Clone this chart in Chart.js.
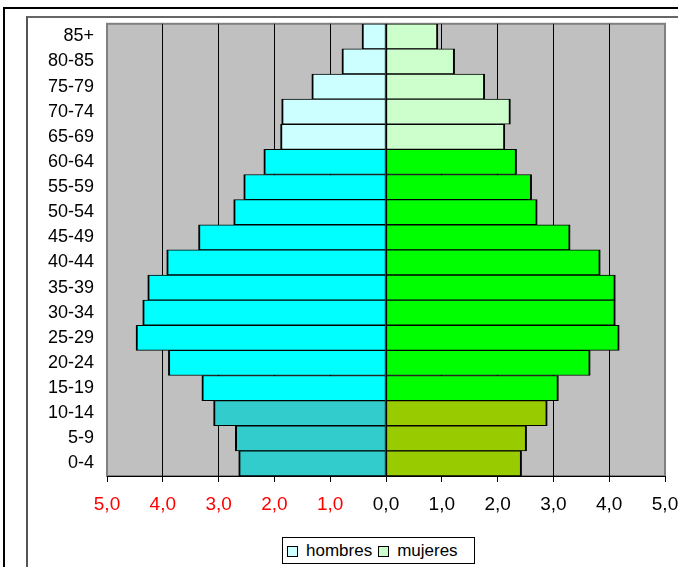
<!DOCTYPE html>
<html>
<head>
<meta charset="utf-8">
<script src="https://cdn.jsdelivr.net/npm/chart.js@4/dist/chart.umd.min.js"></script>
<style>
    html, body { margin: 0; padding: 0; background: #fff; overflow: hidden; }
    #wrap { position: relative; width: 678px; height: 567px; overflow: hidden; }
    #chart { position: absolute; left: 0; top: 0; }
    .frame { position: absolute; pointer-events: none; }
    #outer { left: 3px; top: 7px; width: 700px; height: 600px; border-left: 2px solid #000; border-top: 2px solid #000; }
    #inner { left: 26px; top: 16px; width: 700px; height: 600px; border-left: 2px solid #555; border-top: 2px solid #666; }
    #legend {
        position: absolute; left: 282px; top: 537px; width: 187px; height: 25px;
        border: 1px solid #000; background: #fff;
        font: 17px "Liberation Sans", Arial, sans-serif; color: #000;
        display: flex; align-items: center; padding-left: 4px; box-sizing: content-box;
    }
    #legend .item { display: flex; align-items: center; margin-right: 6px; }
    #legend .box { width: 9px; height: 9px; border: 1px solid #000; margin-right: 8px; margin-top: 1px; }
</style>
</head>
<body>
<div id="wrap">
    <canvas id="chart" width="678" height="567"></canvas>
    <div id="outer" class="frame"></div>
    <div id="inner" class="frame"></div>
    <div id="legend"></div>
</div>
<script>
// Grupos de edad (de arriba a abajo, como en la pirámide)
const ageGroups = ['85+', '80-85', '75-79', '70-74', '65-69', '60-64', '55-59', '50-54', '45-49',
    '40-44', '35-39', '30-34', '25-29', '20-24', '15-19', '10-14', '5-9', '0-4'];

// Porcentaje de población por grupo
const hombres = [0.43, 0.79, 1.33, 1.87, 1.89, 2.19, 2.55, 2.73, 3.36,
    3.93, 4.27, 4.36, 4.48, 3.90, 3.30, 3.09, 2.70, 2.64];
const mujeres = [0.93, 1.23, 1.77, 2.23, 2.13, 2.34, 2.61, 2.71, 3.30,
    3.84, 4.11, 4.11, 4.18, 3.66, 3.09, 2.89, 2.52, 2.43];

const seriesNames = ['hombres', 'mujeres'];

// Colores: mayores (65+), adultos (15-64), jóvenes (0-14)
const coloresHombres = { mayor: '#CCFFFF', adulto: '#00FFFF', joven: '#33CCCC' };
const coloresMujeres = { mayor: '#CCFFCC', adulto: '#00FF00', joven: '#99CC00' };

function colorPorGrupo(paleta) {
    return ageGroups.map(function(g, i) {
        if (i < 5) return paleta.mayor;
        if (i < 15) return paleta.adulto;
        return paleta.joven;
    });
}

const FONT = '"Liberation Sans", Arial, sans-serif';

// Fondo gris del área de trazado
const plotBackground = {
    id: 'plotBackground',
    beforeDraw(chart) {
        const { ctx, chartArea: a } = chart;
        ctx.save();
        ctx.fillStyle = '#C0C0C0';
        ctx.fillRect(a.left, a.top, a.right - a.left, a.bottom - a.top);
        ctx.strokeStyle = '#808080';
        ctx.lineWidth = 2;
        ctx.strokeRect(a.left, a.top, a.right - a.left, a.bottom - a.top);
        ctx.restore();
    }
};

new Chart(document.getElementById('chart'), {
    type: 'bar',
    data: {
        labels: ageGroups,
        datasets: [{
            label: seriesNames[0],
            data: hombres.map(v => -v),
            backgroundColor: colorPorGrupo(coloresHombres),
            borderColor: '#000',
            borderWidth: { top: 1, bottom: 1, left: 2, right: 1 },
            borderSkipped: false
        }, {
            label: seriesNames[1],
            data: mujeres,
            backgroundColor: colorPorGrupo(coloresMujeres),
            borderColor: '#000',
            borderWidth: { top: 1, bottom: 1, left: 1, right: 2 },
            borderSkipped: false
        }]
    },
    options: {
        indexAxis: 'y',
        responsive: false,
        animation: false,
        barPercentage: 1,
        categoryPercentage: 1,
        layout: { padding: { left: 0, right: 13, top: 23, bottom: 51 } },
        plugins: {
            legend: { display: false },
            tooltip: { enabled: false }
        },
        scales: {
            x: {
                type: 'linear',
                stacked: true,
                min: -5,
                max: 5,
                ticks: {
                    stepSize: 1,
                    maxRotation: 0,
                    padding: 11,
                    font: { family: FONT, size: 19 },
                    color: ctx => (ctx.tick && ctx.tick.value < 0) ? '#FF0000' : '#000',
                    callback: v => Math.abs(v).toFixed(1).replace('.', ',')
                },
                grid: {
                    color: ctx => (ctx.tick && Math.abs(ctx.tick.value) === 5) ? '#808080' : '#000',
                    lineWidth: 1,
                    drawTicks: true,
                    tickLength: 6,
                    tickColor: '#000'
                },
                border: { display: true, color: '#000', width: 1 },
                afterFit(scale) {
                    scale.height = 40;
                    scale.paddingLeft = 0;
                    scale.paddingRight = 0;
                }
            },
            y: {
                type: 'category',
                stacked: true,
                ticks: {
                    padding: 13,
                    font: { family: FONT, size: 18 },
                    color: '#000'
                },
                grid: { display: false, drawTicks: false },
                border: { display: false },
                afterFit(scale) {
                    scale.width = 107;
                }
            }
        }
    },
    plugins: [plotBackground]
});

// Leyenda en HTML con recuadro
const legendEl = document.getElementById('legend');
const legendColors = [coloresHombres.mayor, coloresMujeres.mayor];
seriesNames.forEach(function(name, i) {
    const item = document.createElement('span');
    item.className = 'item';
    item.innerHTML = '<span class="box" style="background:' + legendColors[i] + '"></span>' + name;
    legendEl.appendChild(item);
});
</script>
</body>
</html>
